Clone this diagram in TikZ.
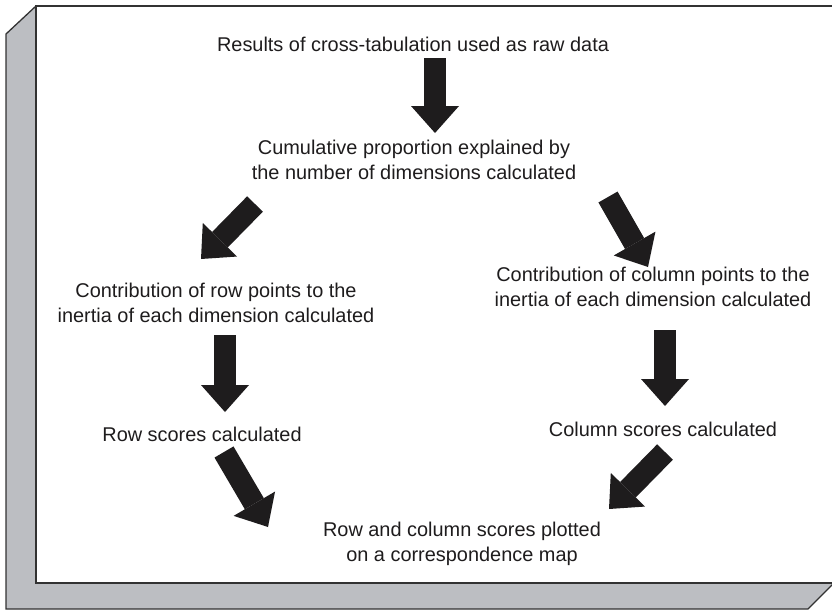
\documentclass[tikz,border=0pt]{standalone}
\usepackage{fontspec}
\setmainfont{Liberation Sans}
\usetikzlibrary{arrows.meta}
\definecolor{panelgray}{RGB}{188,190,194}
\definecolor{edgegray}{RGB}{50,50,50}
\definecolor{inkblack}{RGB}{30,28,29}
\tikzset{>={Triangle[length=0.81cm, width=1.44cm, line width=0pt]}}
\tikzset{
    stagetext/.style={align=center, inner sep=0pt, text=inkblack, font=\fontsize{17}{21.3}\selectfont},
    blockarrow/.style={->, line width=0.66cm, inkblack},
    panel/.style={draw=edgegray, line width=1.1pt, line join=miter}
}

\begin{document}
\begin{tikzpicture}[x = 0.03cm, y = -0.03cm]
    \useasboundingbox (0,0) rectangle (832,611);
    \clip (0,0) rectangle (832,611);

    % shadow and front panel
    \fill[panel, fill=panelgray] (36,6) -- (6,34) -- (6,609) -- (808,609) -- (834,583) -- (834,6) -- cycle;
    \draw[panel, fill=white] (36,6) rectangle (834,583);

    \node[stagetext] (raw) at (413,44) {Results of cross-tabulation used as raw data};
    \node[stagetext] (cumul) at (414,160) {Cumulative proportion explained by\\the number of dimensions calculated};
    \node[stagetext] (rowcontrib) at (216,303) {Contribution of row points to the\\inertia of each dimension calculated};
    \node[stagetext] (colcontrib) at (653,287) {Contribution of column points to the\\inertia of each dimension calculated};
    \node[stagetext] (rowscore) at (202,434) {Row scores calculated};
    \node[stagetext] (colscore) at (663,429) {Column scores calculated};
    \node[stagetext] (plotmap) at (462,544) {Row and column scores plotted\\on a correspondence map};

    \draw[blockarrow] ([shift = {(22, 14)}]raw.center) -- ([shift = {(21, -27)}]cumul.center);

    \draw[blockarrow] ([shift = {(-159, 44)}]cumul.center) -- ([shift = {(-15, -44)}]rowcontrib.center);

    \draw[blockarrow] ([shift = {(194, 37)}]cumul.center) -- ([shift = {(-5, -20)}]colcontrib.center);

    \draw[blockarrow] ([shift = {(9, 32)}]rowcontrib.center) -- ([shift = {(23, -22)}]rowscore.center);

    \draw[blockarrow] ([shift = {(12, 43)}]colcontrib.center) -- ([shift = {(2, -23)}]colscore.center);

    \draw[blockarrow] ([shift = {(22, 18)}]rowscore.center) -- ([shift = {(-194, -17)}]plotmap.center);

    \draw[blockarrow] ([shift = {(2, 23)}]colscore.center) -- ([shift = {(147, -35)}]plotmap.center);
\end{tikzpicture}
\end{document}
